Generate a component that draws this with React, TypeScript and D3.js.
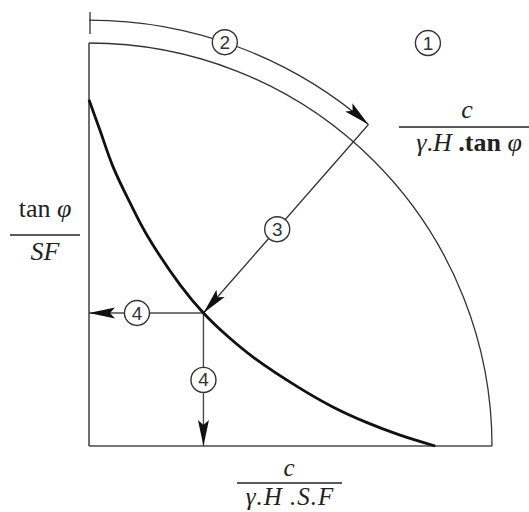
import React from "react";
import * as d3 from "d3";

// thick curve (fractions of the quarter-circle radius)
const curveX = [0, 0.027, 0.06, 0.102, 0.144, 0.226, 0.284, 0.342, 0.408, 0.524, 0.605, 0.69, 0.772, 0.859];
const curveY = [0.859, 0.784, 0.692, 0.603, 0.523, 0.4, 0.33, 0.274, 0.22, 0.143, 0.097, 0.058, 0.027, 0];

// point where arrow 3 hits the curve
const hitPoint = [0.284, 0.33];

// outer arc (step 2)
const outerRadius = 1.057;
const outerEndDeg = 49;

// numbered step markers
const stepText = ["1", "2", "3", "4", "4"];
const stepX = [0.841, 0.337, 0.467, 0.119, 0.284];
const stepY = [1.0, 1.002, 0.538, 0.33, 0.164];

const W = 529;
const H = 512;

export default function App() {
  const x = d3.scaleLinear().domain([0, 1]).range([89, 492]);
  const y = d3.scaleLinear().domain([0, 1]).range([446, 43]);
  const r = x(1) - x(0);
  const cx = x(0),
    cy = y(0);

  const curve = d3
    .line<number>()
    .x((d, i) => x(curveX[i]))
    .y((d, i) => y(curveY[i]))
    .curve(d3.curveCatmullRom.alpha(0.5));

  // inner quarter circle
  const quarter = d3.path();
  quarter.moveTo(cx, cy - r);
  quarter.arc(cx, cy, r, -Math.PI / 2, 0);

  // outer arc with arrow
  const outerPx = outerRadius * r;
  const endA = (-outerEndDeg * Math.PI) / 180;
  const outer = d3.path();
  outer.moveTo(cx, cy - outerPx);
  outer.arc(cx, cy, outerPx, -Math.PI / 2, endA);
  const endX = outerRadius * Math.cos((outerEndDeg * Math.PI) / 180);
  const endY = outerRadius * Math.sin((outerEndDeg * Math.PI) / 180);

  const grey = "#4a4a4a";
  const serif = "'Liberation Serif', 'Times New Roman', serif";
  const sans = "'Liberation Sans', Arial, sans-serif";

  return (
    <svg
      width={W}
      height={H}
      style={{ position: "absolute", left: 0, top: 0, background: "#fff" }}
    >
      <defs>
        <marker
          id="head"
          markerUnits="userSpaceOnUse"
          viewBox="0 0 26 12"
          refX={26}
          refY={6}
          markerWidth={26}
          markerHeight={12}
          orient="auto"
        >
          <path d="M0,0.5 L26,6 L0,11.5 L5,6 Z" fill="#111" />
        </marker>
      </defs>

      {/* axes */}
      <line x1={cx} y1={cy} x2={cx} y2={cy - r} stroke={grey} strokeWidth={1.6} />
      <line x1={cx} y1={cy} x2={cx + r} y2={cy} stroke={grey} strokeWidth={1.6} />
      <path d={quarter.toString()} fill="none" stroke="#333" strokeWidth={1.3} />

      {/* step 2 arc */}
      <line
        x1={cx + 1}
        y1={cy - outerPx - 8}
        x2={cx + 1}
        y2={cy - outerPx + 14}
        stroke="#333"
        strokeWidth={1.3}
      />
      <path
        d={outer.toString()}
        fill="none"
        stroke="#333"
        strokeWidth={1.3}
        markerEnd="url(#head)"
      />

      {/* step 3 */}
      <line
        x1={x(endX)}
        y1={y(endY)}
        x2={x(hitPoint[0])}
        y2={y(hitPoint[1])}
        stroke="#333"
        strokeWidth={1.3}
        markerEnd="url(#head)"
      />

      {/* step 4 */}
      <line
        x1={x(hitPoint[0])}
        y1={y(hitPoint[1])}
        x2={x(0)}
        y2={y(hitPoint[1])}
        stroke={grey}
        strokeWidth={1.4}
        markerEnd="url(#head)"
      />
      <line
        x1={x(hitPoint[0])}
        y1={y(hitPoint[1])}
        x2={x(hitPoint[0])}
        y2={y(0)}
        stroke={grey}
        strokeWidth={1.4}
        markerEnd="url(#head)"
      />

      {/* curve */}
      <path d={curve(curveX) || ""} fill="none" stroke="#111" strokeWidth={2.8} />

      {/* step markers */}
      {stepText.map((t, i) => (
        <g key={i} transform={`translate(${x(stepX[i])},${y(stepY[i])})`}>
          <circle r={12.5} fill="#fff" stroke="#333" strokeWidth={1.4} />
          <text
            y={6.5}
            textAnchor="middle"
            fontFamily={sans}
            fontSize={19}
            fill="#333"
          >
            {t}
          </text>
        </g>
      ))}

      {/* left label */}
      <g fontFamily={serif} fontSize={26} fill="#222" textAnchor="middle">
        <text x={45} y={217}>
          tan <tspan fontStyle="italic">φ</tspan>
        </text>
        <line x1={10} y1={235} x2={80} y2={235} stroke="#222" strokeWidth={1.6} />
        <text x={45} y={260} fontStyle="italic">
          SF
        </text>
      </g>

      {/* right label */}
      <g fontFamily={serif} fontSize={26} fill="#222" textAnchor="middle">
        <text x={467} y={118} fontStyle="italic">
          c
        </text>
        <line x1={399} y1={127} x2={529} y2={127} stroke="#222" strokeWidth={1.6} />
        <text x={469} y={151}>
          <tspan fontStyle="italic">γ</tspan>.<tspan fontStyle="italic">H</tspan>
          <tspan fontWeight="bold"> .tan </tspan>
          <tspan fontStyle="italic">φ</tspan>
        </text>
      </g>

      {/* bottom label */}
      <g fontFamily={serif} fontSize={25} fill="#222" textAnchor="middle" fontStyle="italic">
        <text x={289} y={476}>
          c
        </text>
        <line x1={237} y1={483} x2={342} y2={483} stroke="#222" strokeWidth={1.6} />
        <text x={290} y={505} letterSpacing={1}>
          γ.H .S.F
        </text>
      </g>
    </svg>
  );
}
